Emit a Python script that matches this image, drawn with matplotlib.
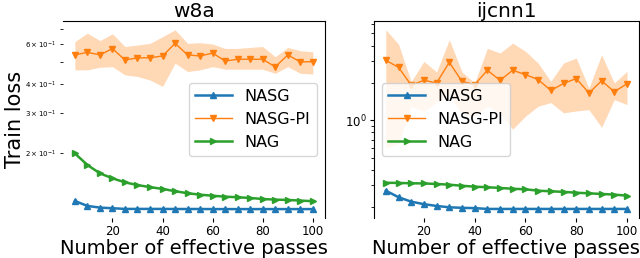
import matplotlib
matplotlib.use("Agg")
import matplotlib.pyplot as plt
import numpy as np

passes = np.arange(5, 105, 5)

# w8a
w8a_nasg = [0.124, 0.118, 0.116, 0.1153, 0.1145, 0.1145, 0.1145, 0.1145, 0.1144, 0.1144,
            0.1144, 0.1143, 0.1143, 0.1143, 0.1143, 0.1143, 0.1143, 0.1143, 0.1143, 0.1143]
w8a_pi = [0.538, 0.552, 0.538, 0.573, 0.511, 0.522, 0.523, 0.532, 0.604, 0.538,
          0.532, 0.548, 0.506, 0.515, 0.515, 0.515, 0.477, 0.538, 0.501, 0.503]
w8a_pi_hi = [0.615, 0.669, 0.621, 0.665, 0.585, 0.594, 0.604, 0.646, 0.692, 0.604,
             0.608, 0.600, 0.574, 0.574, 0.580, 0.585, 0.528, 0.580, 0.561, 0.555]
w8a_pi_lo = [0.463, 0.463, 0.475, 0.478, 0.440, 0.433, 0.418, 0.392, 0.495, 0.455,
             0.463, 0.478, 0.466, 0.466, 0.466, 0.466, 0.447, 0.478, 0.447, 0.444]
w8a_nag = [0.200, 0.178, 0.1637, 0.1557, 0.1495, 0.1455, 0.1425, 0.140, 0.1368, 0.134,
           0.1321, 0.1307, 0.1295, 0.1287, 0.1278, 0.1265, 0.1257, 0.1253, 0.1245, 0.1237]

# ijcnn1
ij_nasg = [0.272, 0.241, 0.222, 0.212, 0.205, 0.200, 0.198, 0.197, 0.194, 0.194,
           0.194, 0.194, 0.194, 0.194, 0.194, 0.194, 0.194, 0.194, 0.194, 0.194]
ij_pi = [3.04, 2.67, 1.92, 2.10, 2.00, 2.93, 2.06, 1.94, 2.53, 2.10,
         2.53, 2.33, 2.13, 1.74, 1.98, 2.17, 1.66, 2.08, 1.70, 1.97]
ij_pi_hi = [5.35, 4.10, 2.05, 2.98, 2.45, 4.45, 2.45, 2.00, 3.80, 3.48,
            4.18, 3.59, 2.89, 2.06, 2.89, 3.17, 1.82, 3.37, 2.00, 2.48]
ij_pi_lo = [0.60, 0.65, 1.30, 1.18, 1.40, 1.61, 1.12, 1.08, 1.30, 1.15,
            0.85, 1.08, 1.30, 1.39, 1.15, 1.19, 1.22, 0.88, 1.47, 1.34]
ij_nag = [0.315, 0.314, 0.312, 0.311, 0.308, 0.304, 0.298, 0.293, 0.290, 0.286,
          0.282, 0.279, 0.272, 0.269, 0.266, 0.262, 0.259, 0.256, 0.253, 0.248]

datasets = [
    ("w8a", w8a_nasg, w8a_pi, w8a_pi_lo, w8a_pi_hi, w8a_nag, "center right"),
    ("ijcnn1", ij_nasg, ij_pi, ij_pi_lo, ij_pi_hi, ij_nag, "center left"),
]

fig = plt.figure(figsize=(6.4, 2.58), dpi=100)
ax1 = fig.add_axes([0.0984, 0.155, 0.409, 0.764])
ax2 = fig.add_axes([0.584, 0.155, 0.4145, 0.764])

for ax, (name, nasg, pi, lo, hi, nag, loc) in zip([ax1, ax2], datasets):
    ax.plot(passes, nasg, color="tab:blue", marker="^", markersize=4, lw=1.8, label="NASG")
    ax.plot(passes, pi, color="tab:orange", marker="v", markersize=4, lw=1, label="NASG-PI")
    ax.fill_between(passes, lo, hi, color="tab:orange", alpha=0.3, lw=0)
    ax.plot(passes, nag, color="tab:green", marker=">", markersize=4, lw=1.8, label="NAG")
    ax.set_yscale("log")
    ax.set_title(name, fontsize=14.5, pad=3)
    ax.set_xlabel("Number of effective passes", fontsize=14, labelpad=1)
    ax.set_xticks([20, 40, 60, 80, 100])
    ax.tick_params(axis="both", which="major", labelsize=8.5, length=3, pad=2)
    ax.tick_params(axis="y", which="minor", labelsize=5, length=2, pad=3)
    ax.spines["bottom"].set_visible(False)
    ax.legend(loc=loc, fontsize=11.5, handlelength=2.3)

ax1.set_ylim(0.1045, 0.757)
ax2.set_ylim(0.164, 6.31)
ax1.spines["left"].set_visible(False)
ax1.set_ylabel("Train loss", fontsize=15)
ax1.yaxis.set_label_coords(-0.145, 0.5)

fig.savefig("out.png", dpi=100)
